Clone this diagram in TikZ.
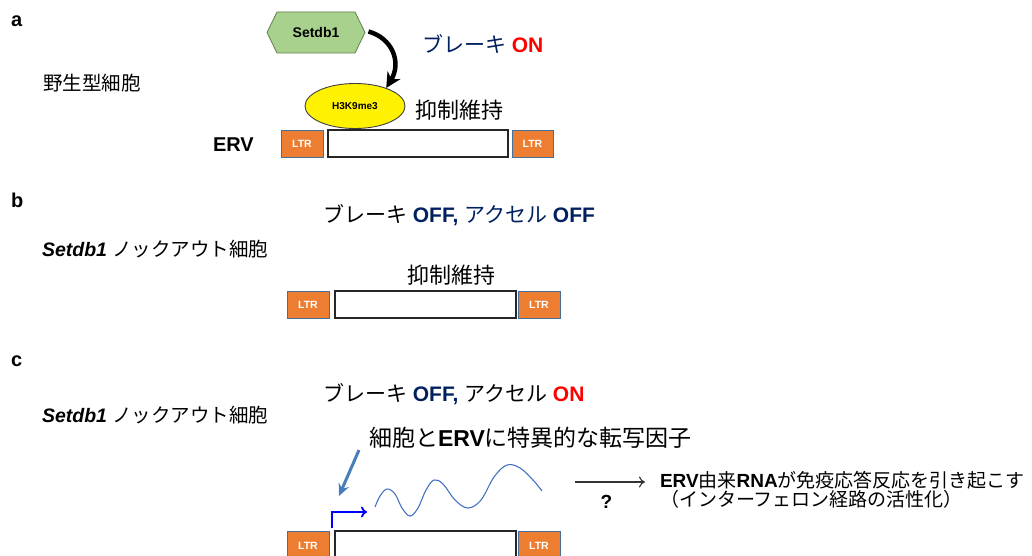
\documentclass[tikz,border=0pt]{standalone}
\usepackage{fontspec}
\setmainfont{Liberation Sans}
\newfontfamily\jp{Noto Sans CJK JP}
\usetikzlibrary{arrows.meta,calc,shapes.geometric,shapes.symbols}
\definecolor{navy}{HTML}{002060}
\definecolor{ltrorange}{HTML}{ED7D31}
\definecolor{ltrborder}{HTML}{41719C}
\definecolor{hexfill}{HTML}{A9D18E}
\definecolor{hexborder}{HTML}{5E7F4C}
\definecolor{steel}{HTML}{4A7EBB}
\definecolor{wave}{HTML}{4472C4}
\newcommand\fsz[1]{\fontsize{#1}{#1}\selectfont}
\begin{document}
\begin{tikzpicture}[x=1pt,y=-1pt,
  txt/.style={anchor=base west, inner sep=0pt, outer sep=0pt},
  panel/.style={txt, font=\fsz{20}\bfseries},
  ltr/.style={draw=ltrborder, fill=ltrorange, line width=0.8pt, minimum width=42pt,
    minimum height=27pt, inner sep=0pt, text=white, font=\fsz{10.5}\bfseries},
  ervbox/.style={draw=black!85, fill=white, line width=1.3pt, minimum width=181pt,
    minimum height=27pt, inner sep=0pt},
  hexa/.style={signal, signal to=west and east, signal pointer angle=128,
    draw=hexborder, fill=hexfill, line width=0.8pt, minimum width=98pt,
    minimum height=41pt, inner sep=0pt, font=\fsz{14}\bfseries},
  mark3/.style={ellipse, draw=black!75, fill=yellow, line width=0.9pt,
    minimum width=100pt, minimum height=45pt, inner sep=0pt, font=\fsz{10}\bfseries},
]
\useasboundingbox (0,0) rectangle (1032,556);
\clip (0,0) rectangle (1032,556);

% ---------------- panel a ----------------
\node[panel] (la) at (11,27) {a};
\node[hexa] (setdb) at (316,32.5) {Setdb1};
\node[mark3] (h3k) at (355,106) {H3K9me3};
\draw[line width=4.5pt, -{Stealth[length=15pt,width=15pt]}]
  ($(setdb.east)+(3,-1)$) .. controls (392,38) and (402,62) .. (h3k.30);
\node[txt] (brakeA) at (422,52.5) {\fsz{21}{\jp\color{navy}ブレーキ} {\bfseries\color{red}ON}};
\node[txt] (wt) at (43,90.5) {\fsz{19.5}\jp 野生型細胞};
\node[txt] (repA) at (415,118.5) {\fsz{22}\jp 抑制維持};
\node[txt] (ervA) at (213,152) {\fsz{20}\bfseries ERV};
\node[ltr] (ltrA1) at (302,143.5) {LTR};
\node[ervbox, minimum width=180pt] (bodyA) at (418,143.5) {};
\node[ltr, minimum width=41pt] (ltrA2) at (532.5,143.5) {LTR};

% ---------------- panel b ----------------
\node[panel] (lb) at (11,207) {b};
\node[txt] (brakeB) at (323,222.5) {\fsz{21}{\jp ブレーキ} {\bfseries\color{navy}OFF,} {\jp\color{navy}アクセル} {\bfseries\color{navy}OFF}};
\node[txt] (koB) at (42,256.5) {\fsz{19.5}{\bfseries\itshape Setdb1} {\jp ノックアウト細胞}};
\node[txt] (repB) at (407,283.5) {\fsz{22}\jp 抑制維持};
\node[ltr] (ltrB1) at (308,304.5) {LTR};
\node[ervbox] (bodyB) at (425.5,304.5) {};
\node[ltr] (ltrB2) at (539,304.5) {LTR};

% ---------------- panel c ----------------
\node[panel] (lc) at (11,366) {c};
\node[txt] (brakeC) at (323,401.5) {\fsz{21}{\jp ブレーキ} {\bfseries\color{navy}OFF,} {\jp アクセル} {\bfseries\color{red}ON}};
\node[txt] (koC) at (42,422.5) {\fsz{19.5}{\bfseries\itshape Setdb1} {\jp ノックアウト細胞}};
\node[txt] (tf) at (369,446.5) {\fsz{23}{\jp 細胞と}{\bfseries ERV}{\jp に特異的な転写因子}};
\node[ltr, minimum height=29pt] (ltrC1) at (308,545.5) {LTR};
\node[ervbox, minimum height=29pt] (bodyC) at (425.5,545.5) {};
\node[ltr, minimum height=29pt] (ltrC2) at (539,545.5) {LTR};

\coordinate (tfarrow1) at (359,450);
\coordinate (tfarrow2) at (339,496);
\draw[steel, line width=3pt, -{Stealth[length=12pt,width=11pt]}] (tfarrow1) -- (tfarrow2);

\coordinate (prom0) at (332,528);
\coordinate (prom1) at (332,512);
\coordinate (prom2) at (367,512);
\draw[blue, line width=1.8pt, -{To[length=6pt,width=11pt]}] (prom0) -- (prom1) -- (prom2);

\draw[wave, line width=1.1pt] plot[smooth, tension=0.6] coordinates
  {(375,507) (380,496) (387,489) (395,494) (402,508) (410,516) (418,508) (426,490) (434,480) (443,484) (455,500) (468,508) (481,500) (494,477) (507,465) (520,468) (533,480) (542,491)};

\coordinate (res1) at (575,482);
\coordinate (res2) at (645,482);
\draw[black!80, line width=1.1pt, -{To[length=6pt,width=11pt]}] (res1) -- (res2);
\node[txt] (qm) at (600.5,508) {\fsz{19}\bfseries ?};
\node[txt] (result) at (660,487) {\fsz{19}{\bfseries ERV}{\jp 由来}{\bfseries RNA}{\jp が免疫応答反応を引き起こす}};
\node[txt] (ifn) at (660,506.5) {\fsz{19}\jp （インターフェロン経路の活性化）};
\end{tikzpicture}
\end{document}
